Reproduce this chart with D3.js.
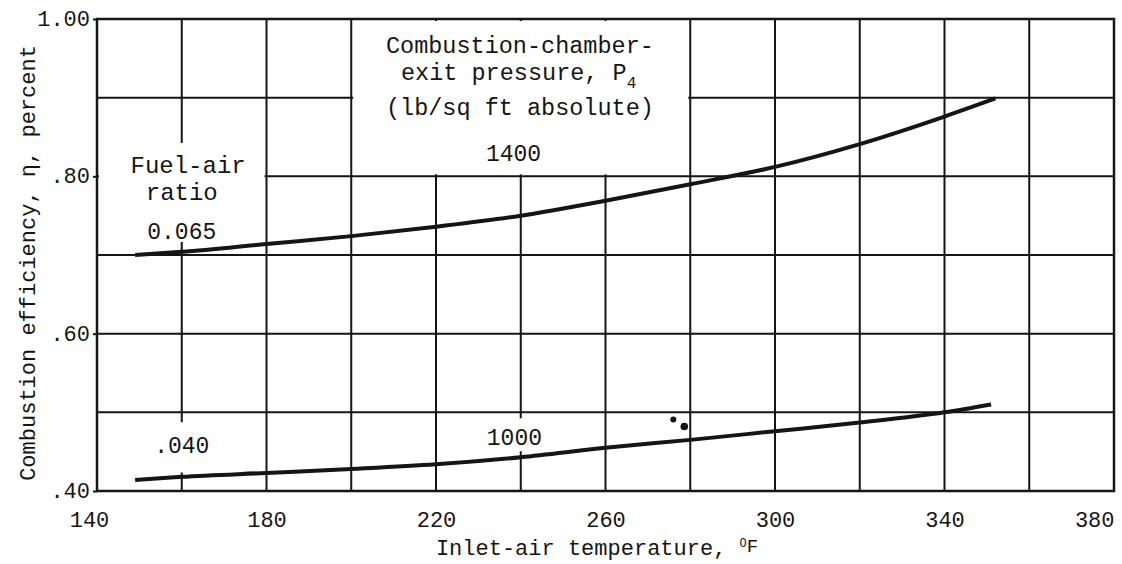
<!DOCTYPE html>
<html>
<head>
<meta charset="utf-8">
<script src="https://cdn.jsdelivr.net/npm/d3@7"></script>
<style>
  html, body { margin: 0; padding: 0; background: #fff; }
  svg { display: block; }
  text { font-family: "Liberation Mono", "DejaVu Sans Mono", monospace; fill: #151515; }
</style>
</head>
<body>
<svg id="chart" width="1122" height="564"></svg>
<script>
// ---- data ----
const xTickValues = [140, 160, 180, 200, 220, 240, 260, 280, 300, 320, 340, 360, 380];
const xTickLabels = [140, 180, 220, 260, 300, 340, 380];
const yTickValues = [0.40, 0.50, 0.60, 0.70, 0.80, 0.90, 1.00];
const yTickLabels = [0.40, 0.60, 0.80, 1.00];

// fuel-air ratio 0.065, exit pressure 1400 lb/sq ft
const temp065 = [149, 160, 180, 200, 220, 240, 260, 280, 300, 320, 340, 352];
const eff065  = [0.700, 0.704, 0.714, 0.724, 0.736, 0.750, 0.769, 0.790, 0.812, 0.841, 0.876, 0.899];

// fuel-air ratio 0.040, exit pressure 1000 lb/sq ft
const temp040 = [149, 160, 180, 200, 220, 240, 260, 280, 300, 320, 340, 351];
const eff040  = [0.414, 0.418, 0.423, 0.428, 0.434, 0.443, 0.455, 0.465, 0.476, 0.487, 0.500, 0.510];

// isolated data points
const pointTemps = [276, 278.6];
const pointEffs  = [0.491, 0.482];

// ---- scales ----
const svg = d3.select("#chart");
const x = d3.scaleLinear().domain([140, 380]).range([97, 1114]);
const y = d3.scaleLinear().domain([0.40, 1.00]).range([491, 19]);
const ink = "#151515";

// ---- grid ----
const grid = svg.append("g");
grid.selectAll("line.v").data(xTickValues).join("line")
  .attr("x1", d => x(d)).attr("x2", d => x(d))
  .attr("y1", y(1.0)).attr("y2", y(0.4))
  .attr("stroke", ink).attr("stroke-width", 2);
grid.selectAll("line.h").data(yTickValues).join("line")
  .attr("x1", x(140)).attr("x2", x(380))
  .attr("y1", d => y(d)).attr("y2", d => y(d))
  .attr("stroke", ink).attr("stroke-width", 2);

// ---- label boxes (gaps in grid) ----
const masks = [
  [140, 180, 0.845, 0.714],
  [200, 280, 1.00, 0.80],
  [150, 176, 0.490, 0.421],
  [230, 251, 0.495, 0.448]
];
svg.append("g").selectAll("rect").data(masks).join("rect")
  .attr("x", d => x(d[0]) + 2)
  .attr("width", d => x(d[1]) - x(d[0]) - 4)
  .attr("y", d => y(d[2]) + 2)
  .attr("height", d => y(d[3]) - y(d[2]) - 4)
  .attr("fill", "#fff");

// ---- frame ----
svg.append("rect")
  .attr("x", x(140)).attr("y", y(1.0))
  .attr("width", x(380) - x(140)).attr("height", y(0.4) - y(1.0))
  .attr("fill", "none").attr("stroke", ink).attr("stroke-width", 2.5);

// ---- axes ticks & labels ----
const xAxis = d3.axisBottom(x).tickValues(xTickLabels).tickSize(0).tickPadding(0).tickFormat(d3.format("d"));
const gx = svg.append("g").attr("transform", `translate(0,${y(0.4)})`).call(xAxis);
gx.select(".domain").remove();
gx.selectAll("text").attr("dy", 0).attr("y", 36)
  .attr("text-anchor", d => d === 380 ? "end" : "middle")
  .attr("x", d => d === 140 ? -8 : 0)
  .style("font-family", '"Liberation Mono", monospace').style("font-size", "22px").attr("fill", ink);

const yAxis = d3.axisLeft(y).tickValues(yTickLabels).tickSize(4).tickPadding(3)
  .tickFormat(d => d === 1 ? "1.00" : d3.format(".2f")(d).replace(/^0/, ""));
const gy = svg.append("g").attr("transform", `translate(${x(140)},0)`).call(yAxis);
gy.select(".domain").remove();
gy.selectAll("line").attr("stroke", ink).attr("stroke-width", 2);
gy.selectAll("text").attr("dy", "0.3em")
  .style("font-family", '"Liberation Mono", monospace').style("font-size", "22px").attr("fill", ink);

// axis titles
const xt = svg.append("text").attr("x", x(258)).attr("y", 555).attr("text-anchor", "middle")
  .style("font-size", "22px");
xt.append("tspan").text("Inlet-air temperature, ");
xt.append("tspan").text("O").style("font-size", "12px").attr("dy", -8);
xt.append("tspan").text("F").style("font-size", "19px").attr("dy", 5);

svg.append("text")
  .attr("transform", `translate(35,${(y(0.4) + y(1.0)) / 2 + 8}) rotate(-90)`)
  .attr("text-anchor", "middle").style("font-size", "22px")
  .text("Combustion efficiency, η, percent");

// ---- curves ----
const line = d3.line().x(d => x(d[0])).y(d => y(d[1])).curve(d3.curveMonotoneX);
svg.append("path").datum(d3.zip(temp065, eff065)).attr("d", line)
  .attr("fill", "none").attr("stroke", ink).attr("stroke-width", 4).attr("stroke-linecap", "butt");
svg.append("path").datum(d3.zip(temp040, eff040)).attr("d", line)
  .attr("fill", "none").attr("stroke", ink).attr("stroke-width", 4).attr("stroke-linecap", "butt");

svg.append("g").selectAll("circle").data(d3.zip(pointTemps, pointEffs)).join("circle")
  .attr("cx", d => x(d[0])).attr("cy", d => y(d[1])).attr("r", (d, i) => i === 0 ? 3 : 3.8)
  .attr("fill", ink);

// ---- annotations ----
function label(txt, xv, yv, dyPx, size) {
  svg.append("text").attr("x", x(xv)).attr("y", y(yv) + (dyPx || 0))
    .attr("text-anchor", "middle").style("font-size", (size || 23) + "px").text(txt);
}
label("Fuel-air", 161.5, 0.80, -3, 24);
label("ratio", 160, 0.80, 24, 24);
label("0.065", 160, 0.70, -16);
label(".040", 160, 0.40, -38);
label("1000", 238.5, 0.40, -46);

label("Combustion-chamber-", 239.8, 1.00, 34, 23.5);
const p4 = svg.append("text").attr("x", x(239.5)).attr("y", y(1.0) + 61)
  .attr("text-anchor", "middle").style("font-size", "23.5px");
p4.append("tspan").text("exit pressure, P");
p4.append("tspan").text("4").style("font-size", "16px").attr("dy", 8);
label("(lb/sq ft absolute)", 239.8, 1.00, 96, 23.5);
label("1400", 238.3, 0.80, -15);
</script>
</body>
</html>
